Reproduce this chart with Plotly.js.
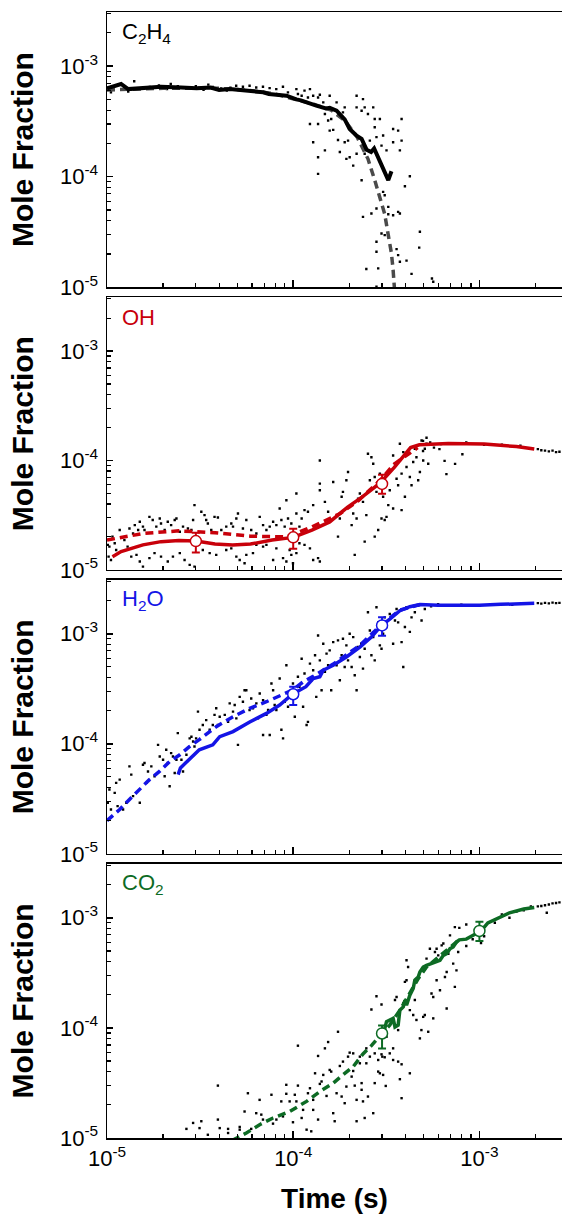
<!DOCTYPE html>
<html><head><meta charset="utf-8">
<script src="https://cdn.plot.ly/plotly-3.0.1.min.js"></script>
<style>html,body{margin:0;padding:0;background:#fff;} #chart{width:562px;height:1214px;}</style>
</head><body><div id="chart"></div>
<script>
// ---------- tick values / labels ----------
const majorTicks = [1e-5, 1e-4, 1e-3];
const majorLabels = ['10<sup>-5</sup>', '10<sup>-4</sup>', '10<sup>-3</sup>'];
const speciesNames = ['C<sub>2</sub>H<sub>4</sub>', 'OH', 'H<sub>2</sub>O', 'CO<sub>2</sub>'];
const speciesColors = ['#000000', '#c8000a', '#1414e6', '#0d6b24'];

// ---------- C2H4 ----------
const c2h4Line = [[1.0e-5,6.3e-4],[1.1e-5,6.6e-4],[1.19e-5,6.9e-4],[1.3e-5,6.2e-4],[1.6e-5,6.4e-4],[1.95e-5,6.5e-4],[2.5e-5,6.4e-4],[3.03e-5,6.3e-4],[3.6e-5,6.4e-4],[4.0e-5,6.1e-4],[4.56e-5,6.2e-4],[5.9e-5,6.0e-4],[6.9e-5,5.8e-4],[7.4e-5,5.6e-4],[9.2e-5,5.4e-4],[1.04e-4,5.0e-4],[1.1e-4,4.9e-4],[1.33e-4,4.4e-4],[1.5e-4,4.15e-4],[1.57e-4,4.2e-4],[1.71e-4,3.95e-4],[1.89e-4,3.3e-4],[2.01e-4,2.7e-4],[2.19e-4,2.35e-4],[2.33e-4,2.2e-4],[2.48e-4,1.75e-4],[2.62e-4,1.67e-4],[2.72e-4,1.8e-4],[2.86e-4,1.47e-4],[2.98e-4,1.25e-4],[3.1e-4,1.06e-4],[3.24e-4,9.3e-5],[3.37e-4,1.12e-4]];
const c2h4Model = [[1.0e-5,6.1e-4],[2.0e-5,6.3e-4],[4.0e-5,6.3e-4],[6.0e-5,6.0e-4],[8.0e-5,5.6e-4],[1.0e-4,5.1e-4],[1.3e-4,4.5e-4],[1.6e-4,4.0e-4],[1.9e-4,3.2e-4],[2.2e-4,2.3e-4],[2.52e-4,1.45e-4],[2.74e-4,9.3e-5],[2.92e-4,6.5e-5],[3.1e-4,4.6e-5],[3.24e-4,2.96e-5],[3.37e-4,2.02e-5],[3.44e-4,1.43e-5],[3.5e-4,9.5e-6]];
const c2h4Dots = [[1.05e-5,5.8e-4],[1.1e-5,6.6e-4],[1.2e-5,6.1e-4],[1.4e-5,7.3e-4],[1.5e-5,6.3e-4],[1.7e-5,6.5e-4],[1.9e-5,6.7e-4],[2.1e-5,6.2e-4],[2.4e-5,6.6e-4],[2.7e-5,6.4e-4],[3.0e-5,6.6e-4],[3.3e-5,6.1e-4],[3.7e-5,6.5e-4],[4.1e-5,6.3e-4],[1.3e-5,5.9e-4],[2.2e-5,6.9e-4],[3.5e-5,6.8e-4],[4.4e-5,6.0e-4],
[4.6e-5,6.4e-4],[4.94e-5,6.65e-4],[5.37e-5,6.52e-4],[5.83e-5,6.65e-4],[5.5e-5,6.0e-4],[6.33e-5,6.42e-4],[6.88e-5,6.52e-4],[7.47e-5,6.33e-4],[8.11e-5,6.2e-4],[8.81e-5,6.52e-4],[9.37e-5,5.79e-4],[1.04e-4,6.2e-4],[1.06e-4,5.59e-4],[1.11e-4,5.4e-4],[1.15e-4,6.0e-4],[1.2e-4,5.21e-4],[1.23e-4,6.2e-4],[1.28e-4,5.4e-4],[1.36e-4,5.21e-4],[1.39e-4,5.51e-4],[1.45e-4,4.7e-4],[1.57e-4,5.4e-4],[1.71e-4,4.7e-4],[1.85e-4,3.82e-4],[1.89e-4,4.24e-4],[2.19e-4,5.4e-4],[2.37e-4,5.03e-4],[2.19e-4,4.24e-4],[2.33e-4,3.95e-4],[2.42e-4,4.24e-4],[2.52e-4,3.69e-4],[2.69e-4,4.24e-4],[2.74e-4,3.33e-4],[2.92e-4,3.33e-4],[1.23e-4,3.0e-4],[1.36e-4,3.0e-4],[1.48e-4,3.69e-4],[1.54e-4,3.22e-4],[1.6e-4,3.33e-4],[1.57e-4,2.61e-4],[1.64e-4,2.65e-4],[1.28e-4,2.05e-4],[1.48e-4,1.73e-4],[1.36e-4,1.5e-4],[1.36e-4,1.06e-4],[1.74e-4,2.15e-4],[1.78e-4,1.67e-4],[1.89e-4,2.05e-4],[1.97e-4,2.12e-4],[1.93e-4,1.45e-4],[2.01e-4,1.5e-4],[2.1e-4,1.26e-4],[2.19e-4,1.61e-4],[2.33e-4,9.27e-5],[2.42e-4,1.61e-4],[2.58e-4,2.12e-4],[2.74e-4,2.8e-4],[2.8e-4,2.28e-4],[2.98e-4,1.91e-4],[3.04e-4,2.36e-4],[3.17e-4,1.73e-4],[3.44e-4,2.7e-4],[3.66e-4,2.61e-4],[3.82e-4,3.33e-4],[3.44e-4,2.05e-4],[3.82e-4,2.12e-4],[3.74e-4,1.73e-4],[4.23e-4,1.01e-4],[3.98e-4,8.18e-5],[3.04e-4,7.28e-5],[3.1e-4,6.79e-5],[2.37e-4,4.33e-5],[2.63e-4,4.64e-5],[2.8e-4,5.15e-5],[3.24e-4,5.33e-5],[3.24e-4,4.57e-5],[3.44e-4,4.48e-5],[3.66e-4,4.8e-5],[3.74e-4,4.64e-5],[2.98e-4,3.06e-5],[3.1e-4,2.96e-5],[2.8e-4,2.58e-5],[2.8e-4,2.09e-5],[3.59e-4,2.21e-5],[3.66e-4,1.95e-5],[3.74e-4,1.7e-5],[4.06e-4,1.74e-5],[4.32e-4,1.32e-5],[4.79e-4,3.17e-5],[4.75e-4,2.28e-5],[2.47e-4,1.46e-5],[2.86e-4,1.48e-5],[2.8e-4,1.01e-5],[5.56e-4,1.2e-5],[5.65e-4,1.12e-5]];

// ---------- OH ----------
const ohLine = [[1.07e-5,1.32e-5],[1.19e-5,1.47e-5],[1.56e-5,1.69e-5],[1.95e-5,1.81e-5],[2.43e-5,1.85e-5],[3.01e-5,1.83e-5],[3.8e-5,1.72e-5],[4.73e-5,1.69e-5],[5.9e-5,1.72e-5],[7.7e-5,1.87e-5],[1.0e-4,1.98e-5],[1.26e-4,2.31e-5],[1.57e-4,2.74e-5],[1.96e-4,3.75e-5],[2.34e-4,4.62e-5],[2.92e-4,6.2e-5],[3.49e-4,8.65e-5],[3.99e-4,1.14e-4],[4.27e-4,1.31e-4],[4.76e-4,1.39e-4],[6.8e-4,1.43e-4],[1.06e-3,1.41e-4],[1.58e-3,1.34e-4],[1.97e-3,1.27e-4]];
const ohModel = [[1.0e-5,1.87e-5],[1.56e-5,2.15e-5],[2.43e-5,2.27e-5],[3.8e-5,2.18e-5],[5.9e-5,2.03e-5],[9.2e-5,2.0e-5],[1.26e-4,2.47e-5],[1.79e-4,3.27e-5],[2.24e-4,4.3e-5],[2.92e-4,6.55e-5],[3.49e-4,9.27e-5],[4.17e-4,1.14e-4],[4.66e-4,1.31e-4]];
const ohPointsT = [3e-5, 1e-4, 3e-4];
const ohPointsY = [1.83e-5, 1.98e-5, 6.1e-5];
const ohErrPlus = [3.5e-6, 3.9e-6, 1.3e-5];
const ohErrMinus = [3.9e-6, 4.2e-6, 1.15e-5];
const ohDots = [[1.01e-5,1.69e-5],[1.02e-5,1.32e-5],[1.07e-5,2.01e-5],[1.03e-5,1.63e-5],[1.10e-5,1.75e-5],[1.12e-5,1.52e-5],[1.05e-5,1.23e-5],[1.17e-5,2.31e-5],[1.24e-5,1.87e-5],[1.29e-5,1.63e-5],[1.32e-5,2.39e-5],[1.38e-5,2.15e-5],[1.41e-5,2.56e-5],[1.47e-5,2.31e-5],[1.50e-5,2.75e-5],[1.56e-5,2.48e-5],[1.59e-5,2.31e-5],[1.69e-5,3.05e-5],[1.76e-5,2.85e-5],[1.84e-5,2.48e-5],[1.92e-5,2.95e-5],[1.95e-5,2.65e-5],[2.04e-5,2.31e-5],[2.12e-5,2.75e-5],[2.21e-5,2.56e-5],[2.31e-5,2.85e-5],[2.36e-5,2.95e-5],[2.46e-5,2.23e-5],[2.56e-5,2.48e-5],[2.72e-5,2.39e-5],[2.84e-5,2.31e-5],[2.90e-5,2.85e-5],[2.95e-5,3.90e-5],[1.35e-5,1.32e-5],[1.44e-5,1.37e-5],[1.50e-5,1.19e-5],[1.56e-5,1.07e-5],[1.69e-5,1.28e-5],[1.80e-5,1.42e-5],[1.95e-5,1.32e-5],[2.12e-5,1.19e-5],[2.26e-5,1.32e-5],[2.46e-5,1.42e-5],[2.61e-5,1.23e-5],[2.78e-5,1.11e-5],[2.95e-5,1.07e-5],[3.08e-5,1.75e-5],[3.21e-5,3.39e-5],[3.34e-5,3.16e-5],[3.41e-5,2.85e-5],[3.48e-5,2.65e-5],[3.63e-5,2.31e-5],[3.78e-5,3.05e-5],[3.94e-5,3.01e-5],[4.11e-5,2.31e-5],[4.37e-5,2.48e-5],[4.65e-5,2.65e-5],[4.75e-5,2.48e-5],[4.95e-5,2.95e-5],[5.05e-5,3.27e-5],[5.37e-5,2.39e-5],[5.60e-5,2.85e-5],[5.95e-5,2.31e-5],[6.34e-5,2.15e-5],[6.61e-5,3.05e-5],[6.89e-5,2.56e-5],[7.18e-5,2.31e-5],[7.48e-5,2.48e-5],[7.80e-5,2.75e-5],[8.12e-5,2.56e-5],[8.64e-5,2.85e-5],[9.00e-5,2.48e-5],[9.38e-5,2.95e-5],[9.77e-5,2.65e-5],[1.04e-4,3.27e-5],[1.08e-4,2.48e-5],[1.11e-4,2.95e-5],[1.15e-4,3.51e-5],[1.20e-4,3.39e-5],[8.46e-5,3.64e-5],[9.19e-5,4.33e-5],[1.04e-4,4.98e-5],[3.27e-5,1.52e-5],[3.56e-5,1.42e-5],[3.86e-5,1.37e-5],[4.37e-5,1.52e-5],[4.65e-5,1.57e-5],[4.95e-5,1.32e-5],[5.16e-5,1.23e-5],[5.48e-5,1.15e-5],[5.60e-5,1.37e-5],[6.08e-5,1.42e-5],[6.34e-5,1.69e-5],[6.89e-5,1.63e-5],[7.18e-5,1.69e-5],[7.80e-5,1.23e-5],[8.12e-5,1.57e-5],[8.82e-5,1.28e-5],[9.19e-5,1.19e-5],[9.57e-5,1.52e-5],[9.77e-5,1.37e-5],[9.97e-5,1.15e-5],[1.04e-4,1.42e-5],[1.08e-4,1.75e-5],[1.15e-4,1.69e-5],[1.23e-4,1.57e-5],[1.28e-4,1.23e-5],[1.36e-4,1.28e-5],[1.39e-4,1.19e-5],[1.28e-4,3.90e-5],[1.39e-4,5.34e-5],[1.39e-4,6.14e-5],[1.39e-4,1.0e-4],[1.48e-4,4.18e-5],[1.54e-4,3.39e-5],[1.57e-4,2.75e-5],[1.64e-4,6.35e-5],[1.74e-4,2.01e-5],[1.78e-4,2.95e-5],[1.82e-4,4.65e-5],[1.85e-4,5.16e-5],[1.93e-4,6.58e-5],[1.97e-4,7.83e-5],[2.01e-4,3.77e-5],[2.06e-4,2.56e-5],[2.10e-4,3.27e-5],[2.14e-4,1.37e-5],[2.19e-4,2.95e-5],[2.23e-4,4.48e-5],[2.28e-4,4.98e-5],[2.37e-4,4.18e-5],[2.42e-4,1.81e-5],[2.47e-4,3.16e-5],[2.52e-4,1.15e-4],[2.58e-4,6.58e-5],[2.63e-4,1.07e-4],[2.69e-4,9.33e-5],[2.74e-4,7.05e-5],[2.80e-4,5.16e-5],[2.74e-4,2.01e-5],[2.86e-4,2.31e-5],[2.92e-4,7.57e-5],[3.04e-4,4.65e-5],[3.10e-4,2.85e-5],[3.24e-4,3.90e-5],[3.30e-4,5.34e-5],[3.44e-4,1.11e-4],[3.52e-4,9.33e-5],[3.59e-4,6.81e-5],[3.66e-4,5.93e-5],[3.74e-4,1.42e-4],[3.82e-4,7.57e-5],[3.90e-4,1.19e-4],[3.98e-4,4.65e-5],[4.06e-4,8.7e-5],[4.23e-4,7.05e-5],[4.32e-4,5.93e-5],[4.41e-4,9.66e-5],[4.50e-4,1.28e-4],[4.59e-4,1.07e-4],[4.69e-4,6.58e-5],[4.79e-4,7.83e-5],[4.89e-4,1.52e-4],[4.99e-4,1.0e-4],[5.09e-4,1.28e-4],[5.20e-4,1.42e-4],[5.31e-4,9.33e-5],[3.44e-4,3.64e-5],[3.82e-4,3.51e-5],[3.17e-4,3.05e-5],[2.98e-4,2.95e-5],[4.98e-4,1.51e-4],[5.44e-4,1.46e-4],[6.22e-4,1.41e-4],[6.5e-4,9.9e-5],[6.65e-4,7.5e-5],[7.4e-4,9.3e-5],[8.1e-4,1.14e-4],[8.5e-4,1.46e-4],[5.7e-4,1.31e-4],[6.1e-4,1.27e-4],[5.2e-4,1.61e-4],[4.98e-4,1.22e-4],[1.06e-3,1.39e-4],[1.32e-3,1.39e-4],[1.66e-3,1.36e-4],[2.06e-3,1.27e-4],[2.15e-3,1.24e-4],[2.25e-3,1.23e-4],[2.36e-3,1.21e-4],[2.47e-3,1.23e-4],[2.58e-3,1.19e-4],[2.69e-3,1.2e-4]];

// ---------- H2O ----------
const h2oLine = [[2.41e-5,5.24e-5],[2.48e-5,6.03e-5],[2.64e-5,6.68e-5],[2.97e-5,8.22e-5],[3.13e-5,8.82e-5],[3.7e-5,9.78e-5],[4.03e-5,1.16e-4],[4.75e-5,1.29e-4],[5.84e-5,1.58e-4],[7.18e-5,1.89e-4],[8.46e-5,2.25e-4],[9.9e-5,2.82e-4],[1.17e-4,3.30e-4],[1.28e-4,3.92e-4],[1.39e-4,4.06e-4],[1.45e-4,4.66e-4],[1.64e-4,5.17e-4],[1.93e-4,6.15e-4],[2.28e-4,7.57e-4],[2.63e-4,9.32e-4],[2.98e-4,1.19e-3],[3.3e-4,1.36e-3],[3.74e-4,1.62e-3],[4.23e-4,1.76e-3],[4.79e-4,1.84e-3],[6.0e-4,1.82e-3],[8.0e-4,1.81e-3],[1.0e-3,1.82e-3],[1.3e-3,1.85e-3],[1.6e-3,1.87e-3],[1.97e-3,1.89e-3]];
const h2oModel = [[1.0e-5,2.0e-5],[1.17e-5,2.53e-5],[1.32e-5,3.12e-5],[1.5e-5,3.84e-5],[1.69e-5,4.72e-5],[1.92e-5,5.63e-5],[2.17e-5,6.9e-5],[2.46e-5,7.94e-5],[2.78e-5,9.45e-5],[3.13e-5,1.09e-4],[3.86e-5,1.43e-4],[4.75e-5,1.76e-4],[5.84e-5,2.1e-4],[7.18e-5,2.41e-4],[8.82e-5,2.82e-4],[9.9e-5,3.07e-4],[1.13e-4,3.65e-4],[1.28e-4,4.1e-4],[1.64e-4,5.3e-4],[2.28e-4,7.84e-4],[2.98e-4,1.21e-3],[3.74e-4,1.64e-3],[4.79e-4,1.84e-3]];
const h2oPointsT = [1e-4, 3e-4];
const h2oPointsY = [2.82e-4, 1.19e-3];
const h2oErrPlus = [4.8e-5, 2.2e-4];
const h2oErrMinus = [5.7e-5, 2.3e-4];
const h2oDots = [[1.01e-5,2.91e-5],[1.05e-5,2.53e-5],[1.03e-5,3.84e-5],[1.10e-5,3.58e-5],[1.12e-5,4.41e-5],[1.17e-5,4.72e-5],[1.14e-5,2.71e-5],[1.22e-5,2.53e-5],[1.27e-5,2.91e-5],[1.32e-5,6.23e-5],[1.35e-5,5.24e-5],[1.38e-5,3.34e-5],[1.50e-5,2.91e-5],[1.56e-5,6.45e-5],[1.59e-5,6.68e-5],[1.63e-5,4.41e-5],[1.66e-5,5.6e-5],[1.73e-5,6.23e-5],[1.80e-5,5.06e-5],[1.88e-5,9.78e-5],[1.92e-5,7.67e-5],[2.0e-5,7.16e-5],[2.04e-5,5.06e-5],[2.08e-5,8.82e-5],[2.12e-5,6.68e-5],[2.17e-5,4.11e-5],[2.21e-5,8.22e-5],[2.26e-5,7.67e-5],[2.31e-5,5.43e-5],[2.36e-5,7.16e-5],[2.40e-5,1.25e-4],[2.51e-5,7.16e-5],[2.56e-5,5.6e-5],[2.67e-5,7.94e-5],[2.78e-5,1.12e-4],[2.84e-5,1.16e-4],[2.90e-5,1.05e-4],[2.95e-5,9.45e-5],[3.01e-5,1.12e-4],[3.08e-5,1.96e-4],[3.14e-5,1.34e-4],[3.27e-5,1.48e-4],[3.41e-5,1.64e-4],[3.56e-5,1.34e-4],[3.70e-5,1.48e-4],[3.78e-5,1.83e-4],[3.86e-5,2.10e-4],[3.94e-5,1.48e-4],[4.03e-5,1.76e-4],[4.29e-5,1.83e-4],[4.47e-5,1.58e-4],[4.56e-5,2.33e-4],[4.75e-5,1.96e-4],[4.85e-5,2.25e-4],[4.95e-5,1.70e-4],[5.05e-5,9.78e-5],[5.16e-5,2.67e-4],[5.37e-5,2.41e-4],[5.48e-5,3.07e-4],[5.60e-5,3.07e-4],[5.83e-5,2.03e-4],[5.95e-5,2.58e-4],[6.08e-5,2.10e-4],[6.34e-5,2.33e-4],[6.47e-5,1.70e-4],[6.61e-5,2.86e-4],[6.89e-5,2.49e-4],[6.89e-5,1.20e-4],[7.18e-5,1.83e-4],[7.33e-5,2.03e-4],[7.48e-5,1.20e-4],[7.64e-5,3.53e-4],[7.80e-5,3.07e-4],[7.95e-5,2.25e-4],[8.12e-5,2.03e-4],[8.46e-5,3.92e-4],[8.64e-5,1.34e-4],[8.82e-5,1.12e-4],[9.0e-5,2.41e-4],[9.19e-5,5.17e-4],[9.38e-5,2.17e-4],[9.57e-5,2.77e-4],[9.97e-5,3.53e-4],[1.02e-4,1.76e-4],[1.04e-4,2.86e-4],[1.06e-4,4.06e-4],[1.08e-4,3.30e-4],[1.11e-4,5.93e-4],[1.13e-4,2.17e-4],[1.15e-4,4.35e-4],[1.18e-4,1.48e-4],[1.20e-4,1.58e-4],[1.23e-4,5.35e-4],[1.25e-4,3.78e-4],[1.28e-4,4.66e-4],[1.31e-4,6.37e-4],[1.33e-4,2.67e-4],[1.36e-4,9.65e-4],[1.39e-4,5.73e-4],[1.42e-4,3.07e-4],[1.45e-4,8.11e-4],[1.48e-4,4.5e-4],[1.51e-4,6.6e-4],[1.54e-4,5.17e-4],[1.57e-4,7.06e-4],[1.60e-4,3.07e-4],[1.64e-4,8.4e-4],[1.71e-4,5.17e-4],[1.74e-4,8.7e-4],[1.78e-4,3.78e-4],[1.82e-4,6.37e-4],[1.85e-4,9.0e-4],[1.89e-4,4.99e-4],[1.93e-4,7.84e-4],[1.97e-4,5.73e-4],[2.01e-4,1.0e-3],[2.06e-4,4.99e-4],[2.10e-4,9.32e-4],[2.14e-4,4.2e-4],[2.19e-4,3.07e-4],[2.23e-4,7.57e-4],[2.28e-4,6.15e-4],[2.32e-4,8.11e-4],[2.37e-4,4.82e-4],[2.42e-4,7.31e-4],[2.47e-4,8.7e-4],[2.52e-4,1.57e-3],[2.58e-4,1.07e-3],[2.63e-4,6.37e-4],[2.69e-4,9.32e-4],[2.74e-4,5.73e-4],[2.80e-4,1.74e-3],[2.86e-4,1.27e-3],[2.92e-4,7.84e-4],[2.98e-4,7.31e-4],[3.04e-4,1.0e-3],[3.10e-4,1.41e-3],[3.17e-4,1.15e-3],[3.30e-4,1.51e-3],[3.44e-4,8.11e-4],[3.52e-4,1.32e-3],[3.59e-4,1.68e-3],[3.66e-4,1.27e-3],[3.74e-4,1.62e-3],[3.82e-4,8.4e-4],[3.90e-4,4.99e-4],[3.98e-4,1.15e-3],[4.06e-4,1.74e-3],[4.23e-4,1.04e-3],[4.32e-4,1.41e-3],[4.50e-4,1.57e-3],[4.69e-4,1.80e-3],[4.89e-4,1.32e-3],[5.09e-4,1.68e-3],[5.5e-4,1.78e-3],[6.0e-4,1.86e-3],[7.0e-4,1.80e-3],[8.0e-4,1.84e-3],[1.0e-3,1.80e-3],[1.2e-3,1.86e-3],[1.5e-3,1.83e-3],[2.06e-3,1.9e-3],[2.15e-3,1.88e-3],[2.25e-3,1.91e-3],[2.36e-3,1.89e-3],[2.47e-3,1.92e-3],[2.58e-3,1.9e-3],[2.69e-3,1.91e-3]];

// ---------- CO2 ----------
const co2Line = [[3.04e-4,8.6e-5],[3.17e-4,1.14e-4],[3.3e-4,1.18e-4],[3.44e-4,1.22e-4],[3.52e-4,1.02e-4],[3.66e-4,1.06e-4],[3.74e-4,1.45e-4],[3.9e-4,1.55e-4],[3.98e-4,1.79e-4],[4.06e-4,1.61e-4],[4.23e-4,1.98e-4],[4.41e-4,2.28e-4],[4.5e-4,2.71e-4],[4.69e-4,2.9e-4],[4.79e-4,3.22e-4],[4.99e-4,3.57e-4],[5.2e-4,3.7e-4],[5.53e-4,3.83e-4],[5.77e-4,3.97e-4],[6.14e-4,4.11e-4],[6.4e-4,4.56e-4],[6.67e-4,4.72e-4],[6.95e-4,5.24e-4],[7.23e-4,5.43e-4],[7.53e-4,6.02e-4],[7.8e-4,6.3e-4],[8.5e-4,6.4e-4],[9.2e-4,6.9e-4],[1.02e-3,7.59e-4],[1.11e-3,9.0e-4],[1.21e-3,9.66e-4],[1.32e-3,1.03e-3],[1.45e-3,1.11e-3],[1.73e-3,1.2e-3],[1.97e-3,1.24e-3]];
const co2Model = [[4.7e-5,9.5e-6],[5.6e-5,1.11e-5],[6.6e-5,1.32e-5],[7.79e-5,1.52e-5],[9.57e-5,1.74e-5],[1.18e-4,2.15e-5],[1.39e-4,2.64e-5],[1.64e-4,3.15e-5],[1.85e-4,3.74e-5],[2.1e-4,4.45e-5],[2.37e-4,5.8e-5],[2.63e-4,6.9e-5],[2.94e-4,8.6e-5],[3.3e-4,1.06e-4],[3.74e-4,1.45e-4],[4.23e-4,2.05e-4],[4.69e-4,2.8e-4],[5.2e-4,3.57e-4],[5.89e-4,4.26e-4],[6.67e-4,5.06e-4],[7.69e-4,6.2e-4]];
const co2PointsT = [3e-4, 1e-3];
const co2PointsY = [8.9e-5, 7.59e-4];
const co2ErrPlus = [1.6e-5, 1.6e-4];
const co2ErrMinus = [2.4e-5, 1.44e-4];
const co2Dots = [[2.67e-5,1.21e-5],[2.90e-5,1.37e-5],[3.14e-5,1.23e-5],[3.21e-5,1.42e-5],[3.48e-5,1.07e-5],[3.94e-5,2.99e-5],[3.94e-5,1.47e-5],[4.03e-5,1.23e-5],[4.47e-5,1.21e-5],[4.47e-5,1.11e-5],[5.16e-5,1.26e-5],[5.16e-5,1.19e-5],[5.48e-5,1.74e-5],[5.71e-5,2.55e-5],[5.95e-5,1.21e-5],[6.33e-5,1.68e-5],[6.60e-5,2.22e-5],[6.74e-5,1.63e-5],[6.88e-5,1.47e-5],[7.64e-5,2.47e-5],[7.79e-5,1.35e-5],[8.12e-5,1.47e-5],[8.63e-5,2.15e-5],[8.81e-5,1.57e-5],[9.18e-5,2.52e-5],[9.18e-5,3.04e-5],[9.57e-5,2.15e-5],[9.97e-5,1.39e-5],[1.02e-4,2.47e-5],[1.04e-4,2.15e-5],[1.06e-4,6.89e-5],[1.06e-4,2.99e-5],[1.11e-4,1.52e-5],[1.13e-4,1.80e-5],[1.18e-4,1.19e-5],[1.20e-4,2.55e-5],[1.23e-4,2.83e-5],[1.25e-4,1.15e-5],[1.28e-4,2.22e-5],[1.28e-4,1.80e-5],[1.31e-4,3.87e-5],[1.36e-4,5.56e-5],[1.36e-4,1.47e-5],[1.39e-4,3.10e-5],[1.42e-4,3.26e-5],[1.45e-4,3.74e-5],[1.48e-4,6.52e-5],[1.51e-4,2.41e-5],[1.54e-4,7.44e-5],[1.57e-4,4.15e-5],[1.60e-4,4.01e-5],[1.64e-4,1.68e-5],[1.67e-4,1.42e-5],[1.71e-4,2.55e-5],[1.74e-4,9.22e-5],[1.78e-4,4.51e-5],[1.82e-4,2.38e-5],[1.85e-4,4.94e-5],[1.89e-4,2.07e-5],[1.93e-4,2.93e-5],[1.97e-4,5.48e-5],[2.01e-4,5.96e-5],[2.06e-4,3.61e-5],[2.10e-4,5.87e-5],[2.10e-4,4.06e-5],[2.14e-4,2.99e-5],[2.19e-4,2.22e-5],[2.19e-4,1.42e-5],[2.28e-4,5.48e-5],[2.28e-4,4.77e-5],[2.33e-4,3.15e-5],[2.33e-4,2.74e-5],[2.37e-4,2.15e-5],[2.42e-4,1.52e-5],[2.47e-4,6.52e-5],[2.47e-4,4.77e-5],[2.52e-4,2.38e-5],[2.58e-4,5.48e-5],[2.63e-4,1.47e-4],[2.69e-4,1.68e-5],[2.74e-4,5.87e-5],[2.74e-4,3.15e-5],[2.80e-4,1.94e-4],[2.86e-4,5.11e-5],[2.86e-4,4.01e-5],[2.92e-4,3.87e-5],[2.98e-4,5.75e-5],[2.98e-4,1.63e-4],[3.01e-4,5.48e-5],[3.04e-4,3.74e-5],[3.10e-4,5.41e-5],[3.14e-4,2.97e-5],[3.17e-4,8.31e-5],[3.30e-4,5.87e-5],[3.44e-4,5.11e-5],[3.44e-4,6.52e-5],[3.52e-4,1.79e-4],[3.59e-4,1.91e-4],[3.66e-4,4.94e-5],[3.66e-4,9.55e-5],[3.74e-4,3.42e-5],[3.82e-4,2.30e-5],[3.82e-4,4.67e-5],[3.90e-4,1.67e-4],[3.98e-4,2.62e-4],[4.06e-4,2.71e-4],[4.06e-4,4.11e-4],[4.14e-4,3.57e-4],[4.23e-4,3.87e-5],[4.23e-4,1.45e-4],[4.41e-4,1.31e-4],[4.50e-4,1.79e-4],[4.59e-4,1.18e-4],[4.79e-4,8.03e-5],[4.88e-4,9.55e-5],[4.99e-4,1.26e-4],[5.09e-4,1.31e-4],[5.20e-4,4.26e-4],[5.31e-4,9.22e-5],[5.42e-4,5.24e-4],[5.53e-4,2.05e-4],[5.65e-4,1.91e-4],[5.65e-4,1.22e-4],[5.77e-4,4.89e-4],[5.89e-4,5.24e-4],[5.89e-4,2.71e-4],[6.01e-4,4.56e-4],[6.14e-4,2.20e-4],[6.27e-4,5.62e-4],[6.40e-4,5.84e-4],[6.53e-4,2.90e-4],[6.67e-4,1.50e-4],[6.67e-4,3.22e-4],[6.81e-4,4.72e-4],[6.95e-4,6.92e-4],[7.23e-4,3.83e-4],[7.38e-4,2.36e-4],[7.38e-4,8.23e-4],[7.53e-4,3.33e-4],[7.69e-4,4.89e-4],[8.5e-4,5.55e-4],[9.2e-4,6.38e-4],[1.02e-3,5.9e-4],[1.06e-3,6.8e-4],[8.5e-4,8.7e-4],[7.8e-4,8.1e-4],[1.21e-3,9.0e-4],[1.32e-3,1.07e-3],[1.45e-3,1.0e-3],[1.58e-3,1.14e-3],[1.73e-3,1.17e-3],[1.89e-3,1.27e-3],[2.3e-3,1.11e-3],[2.06e-3,1.27e-3],[2.15e-3,1.28e-3],[2.25e-3,1.3e-3],[2.36e-3,1.32e-3],[2.47e-3,1.35e-3],[2.58e-3,1.36e-3],[2.69e-3,1.38e-3]];

// ---------- build ----------
const FONT = '"Liberation Sans", Arial, Helvetica, sans-serif';
const panels = [
  {line: c2h4Line, model: c2h4Model, dots: c2h4Dots, pts: null, lineColor: '#000000', modelColor: '#4a4a4a', lw: 4},
  {line: ohLine, model: ohModel, dots: ohDots, pts: [ohPointsT, ohPointsY, ohErrPlus, ohErrMinus], lineColor: speciesColors[1], modelColor: speciesColors[1], lw: 3.5},
  {line: h2oLine, model: h2oModel, dots: h2oDots, pts: [h2oPointsT, h2oPointsY, h2oErrPlus, h2oErrMinus], lineColor: speciesColors[2], modelColor: speciesColors[2], lw: 3.5},
  {line: co2Line, model: co2Model, dots: co2Dots, pts: [co2PointsT, co2PointsY, co2ErrPlus, co2ErrMinus], lineColor: speciesColors[3], modelColor: speciesColors[3], lw: 3.5}
];
const domains = [[0.7556, 1], [0.5046, 0.7465], [0.2524, 0.4957], [0, 0.2435]];
const minorTicks = [];
[1e-5, 1e-4, 1e-3].forEach(d => { for (let m = 2; m <= 9; m++) minorTicks.push(m * d); });

const traces = [];
const layout = {
  width: 562, height: 1214,
  margin: {l: 107, r: 0, t: 12, b: 76},
  paper_bgcolor: '#ffffff', plot_bgcolor: '#ffffff',
  showlegend: false,
  font: {family: FONT, size: 22, color: '#000'},
  annotations: []
};

panels.forEach((p, i) => {
  const s = i === 0 ? '' : String(i + 1);
  const xa = 'x' + s, ya = 'y' + s;
  traces.push({x: p.dots.map(d => d[0]), y: p.dots.map(d => d[1]), xaxis: xa, yaxis: ya, type: 'scatter', mode: 'markers',
    marker: {symbol: 'square', size: 2.4, color: '#000'}, hoverinfo: 'skip'});
  traces.push({x: p.model.map(d => d[0]), y: p.model.map(d => d[1]), xaxis: xa, yaxis: ya, type: 'scatter', mode: 'lines',
    line: {color: p.modelColor, width: 3.5, dash: '8px,5px'}});
  traces.push({x: p.line.map(d => d[0]), y: p.line.map(d => d[1]), xaxis: xa, yaxis: ya, type: 'scatter', mode: 'lines',
    line: {color: p.lineColor, width: p.lw}});
  if (p.pts) {
    traces.push({x: p.pts[0], y: p.pts[1], xaxis: xa, yaxis: ya, type: 'scatter', mode: 'markers',
      marker: {symbol: 'circle', size: 11, color: '#ffffff', line: {color: p.lineColor, width: 1.5}},
      error_y: {type: 'data', array: p.pts[2], arrayminus: p.pts[3], visible: true, color: p.lineColor, thickness: 2, width: 4}});
  }
  const xaxis = {
    type: 'log', range: [-5, -2.5565], anchor: ya,
    showline: true, linecolor: '#000', linewidth: 1.5, mirror: true,
    ticks: 'inside', ticklen: 7, tickwidth: 1.5, tickcolor: '#000',
    tickmode: 'array', tickvals: majorTicks, ticktext: majorLabels,
    showticklabels: i === 3, tickfont: {family: FONT, size: 22, color: '#000'},
    minor: {ticks: 'inside', ticklen: 4, tickwidth: 1.2, tickcolor: '#000', tickmode: 'array', tickvals: minorTicks, showgrid: false},
    showgrid: false, zeroline: false, fixedrange: true
  };
  if (i > 0) xaxis.matches = 'x';
  if (i === 3) xaxis.title = {text: 'Time (s)', font: {family: FONT, size: 28, color: '#000', weight: 'bold'}, standoff: 19};
  layout['xaxis' + s] = xaxis;
  layout['yaxis' + s] = {
    type: 'log', range: [-5, -2.51], domain: domains[i], anchor: xa,
    showline: true, linecolor: '#000', linewidth: 1.5, mirror: false,
    ticks: 'inside', ticklen: 6, tickwidth: 1.5, tickcolor: '#000',
    tickmode: 'array', tickvals: majorTicks, ticktext: majorLabels,
    tickfont: {family: FONT, size: 22, color: '#000'}, ticklabelstandoff: 3,
    minor: {ticks: 'inside', ticklen: 4, tickwidth: 1.2, tickcolor: '#000', tickmode: 'array', tickvals: minorTicks, showgrid: false},
    showgrid: false, zeroline: false, fixedrange: true,
    title: {text: 'Mole Fraction', font: {family: FONT, size: 30, color: '#000', weight: 'bold'}, standoff: 17}
  };
  layout.annotations.push({xref: xa + ' domain', yref: ya + ' domain', x: 0.028, y: 0.925, xanchor: 'left', yanchor: 'middle',
    text: speciesNames[i], showarrow: false, font: {family: FONT, size: 22, color: speciesColors[i]}});
});

Plotly.newPlot('chart', traces, layout, {staticPlot: true, displayModeBar: false});
</script></body></html>
